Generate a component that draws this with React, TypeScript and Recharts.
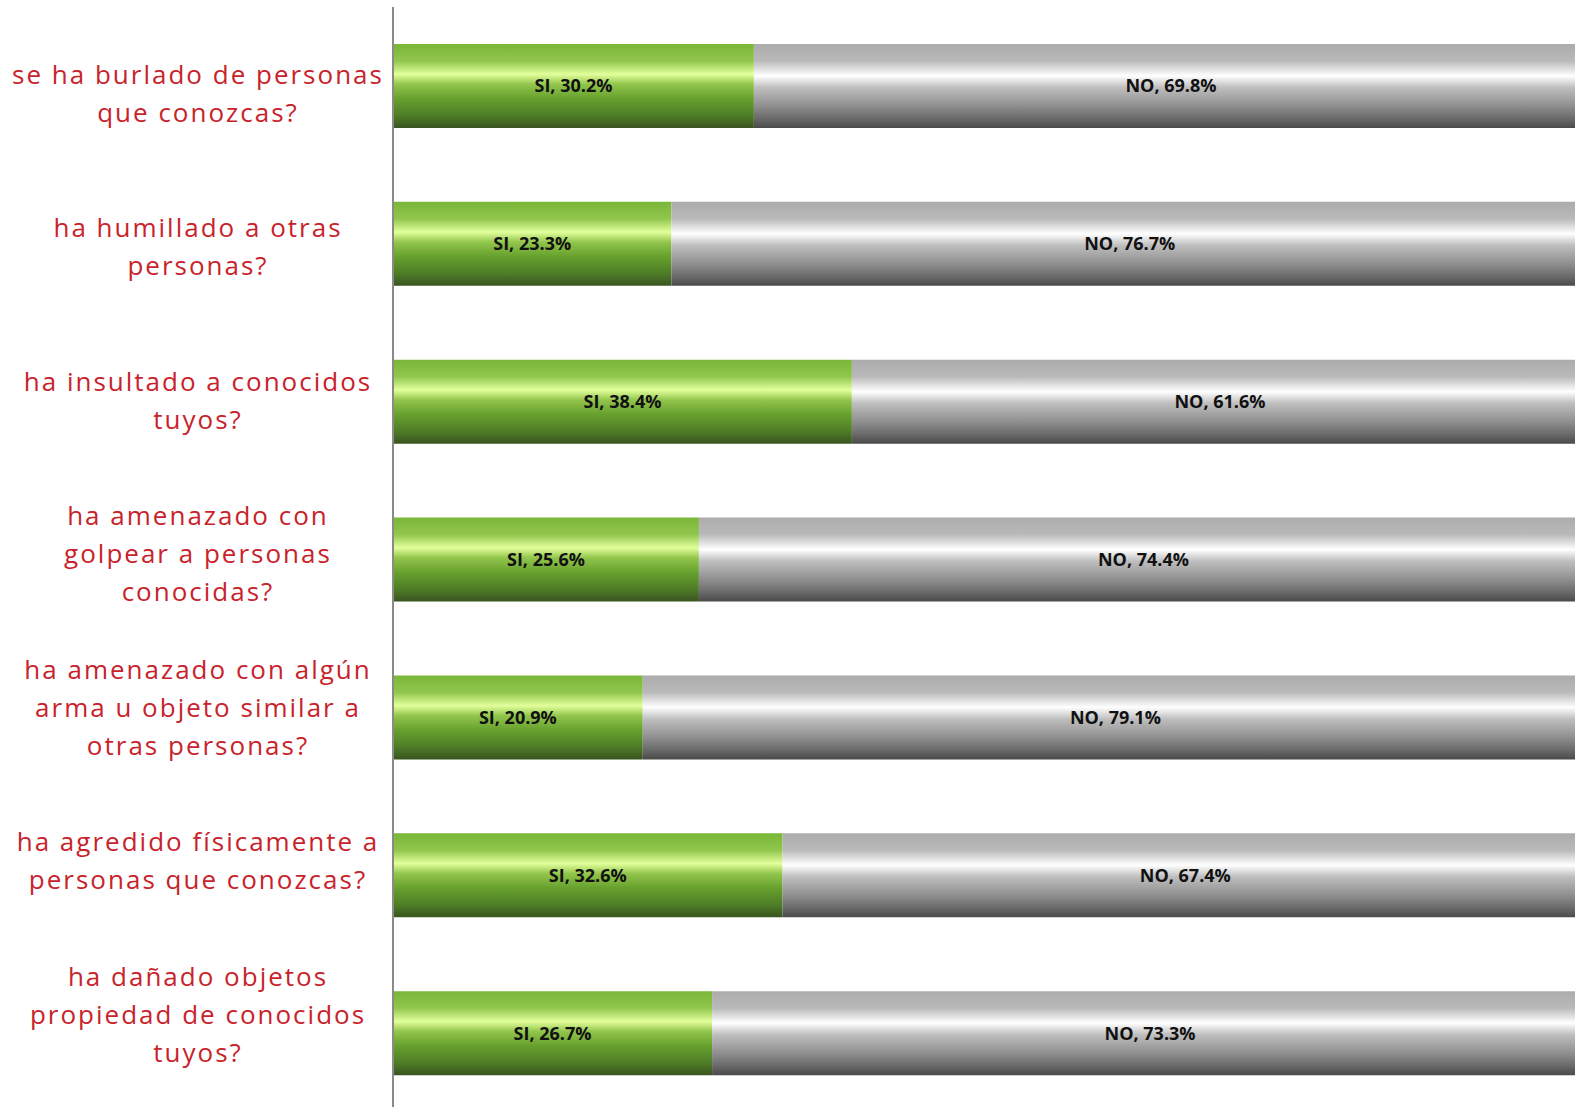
import { BarChart, Bar, XAxis, YAxis, LabelList } from "recharts";

const questions = [
  ["se ha burlado de personas", "que conozcas?"],
  ["ha humillado a otras", "personas?"],
  ["ha insultado a conocidos", "tuyos?"],
  ["ha amenazado con", "golpear a personas", "conocidas?"],
  ["ha amenazado con algún", "arma u objeto similar a", "otras personas?"],
  ["ha agredido físicamente a", "personas que conozcas?"],
  ["ha dañado objetos", "propiedad de conocidos", "tuyos?"],
];

const siValues = [30.2, 23.3, 38.4, 25.6, 20.9, 32.6, 26.7];
const noValues = [69.8, 76.7, 61.6, 74.4, 79.1, 67.4, 73.3];

const data = questions.map((lines, i) => ({
  key: `q${i}`,
  si: siValues[i],
  no: noValues[i],
}));

const QuestionTick = (props: any) => {
  const { x, y, index } = props;
  const lines = questions[index] ?? [];
  const lineH = 38;
  const cx = x - 187;
  // the labels in the original drift upward a bit vs the bars
  const shift = 7 - index * 4.4;
  const startY = y + shift - ((lines.length - 1) * lineH) / 2;
  return (
    <text
      x={cx}
      y={startY}
      textAnchor="middle"
      dominantBaseline="central"
      fill="#c8232b"
      fontFamily="'Open Sans', sans-serif"
      fontSize={26}
      letterSpacing={2}
    >
      {lines.map((l, k) => (
        <tspan key={k} x={cx} y={startY + k * lineH}>
          {l}
        </tspan>
      ))}
    </text>
  );
};

const labelStyle = {
  fill: "#111",
  fontFamily: "'Open Sans', sans-serif",
  fontWeight: 700,
  fontSize: 18,
};

export default function App() {
  return (
    <div
      style={{
        position: "absolute",
        left: 0,
        top: 0,
        width: 1575,
        height: 1107,
        overflow: "hidden",
        background: "#fff",
      }}
    >
      <BarChart
        width={1575}
        height={1112}
        data={data}
        layout="vertical"
        margin={{ top: 7, right: -13, bottom: 0, left: 1 }}
      >
        <defs>
          <linearGradient id="gSi" x1="0" y1="0" x2="0" y2="1">
            <stop offset="0%" stopColor="#7ab638" />
            <stop offset="20%" stopColor="#90c64c" />
            <stop offset="36%" stopColor="#e2ff9c" />
            <stop offset="48%" stopColor="#92c54c" />
            <stop offset="65%" stopColor="#67a12e" />
            <stop offset="85%" stopColor="#4e7d27" />
            <stop offset="100%" stopColor="#3a5420" />
          </linearGradient>
          <linearGradient id="gNo" x1="0" y1="0" x2="0" y2="1">
            <stop offset="0%" stopColor="#acacac" />
            <stop offset="20%" stopColor="#b9b9b9" />
            <stop offset="38%" stopColor="#ffffff" />
            <stop offset="52%" stopColor="#bebebe" />
            <stop offset="72%" stopColor="#939393" />
            <stop offset="88%" stopColor="#6c6c6c" />
            <stop offset="100%" stopColor="#4a4a4a" />
          </linearGradient>
        </defs>
        <XAxis type="number" domain={[0, 100]} hide />
        <YAxis
          type="category"
          dataKey="key"
          width={392}
          axisLine={{ stroke: "#8a8a8a", strokeWidth: 2 }}
          tickLine={false}
          interval={0}
          tick={<QuestionTick />}
        />
        <Bar
          dataKey="si"
          stackId="a"
          fill="url(#gSi)"
          barSize={84}
          isAnimationActive={false}
        >
          <LabelList
            dataKey="si"
            position="center"
            formatter={(v: any) => `SI, ${Number(v).toFixed(1)}%`}
            style={labelStyle}
          />
        </Bar>
        <Bar
          dataKey="no"
          stackId="a"
          fill="url(#gNo)"
          barSize={84}
          isAnimationActive={false}
        >
          <LabelList
            dataKey="no"
            position="center"
            formatter={(v: any) => `NO, ${Number(v).toFixed(1)}%`}
            style={labelStyle}
          />
        </Bar>
      </BarChart>
    </div>
  );
}
